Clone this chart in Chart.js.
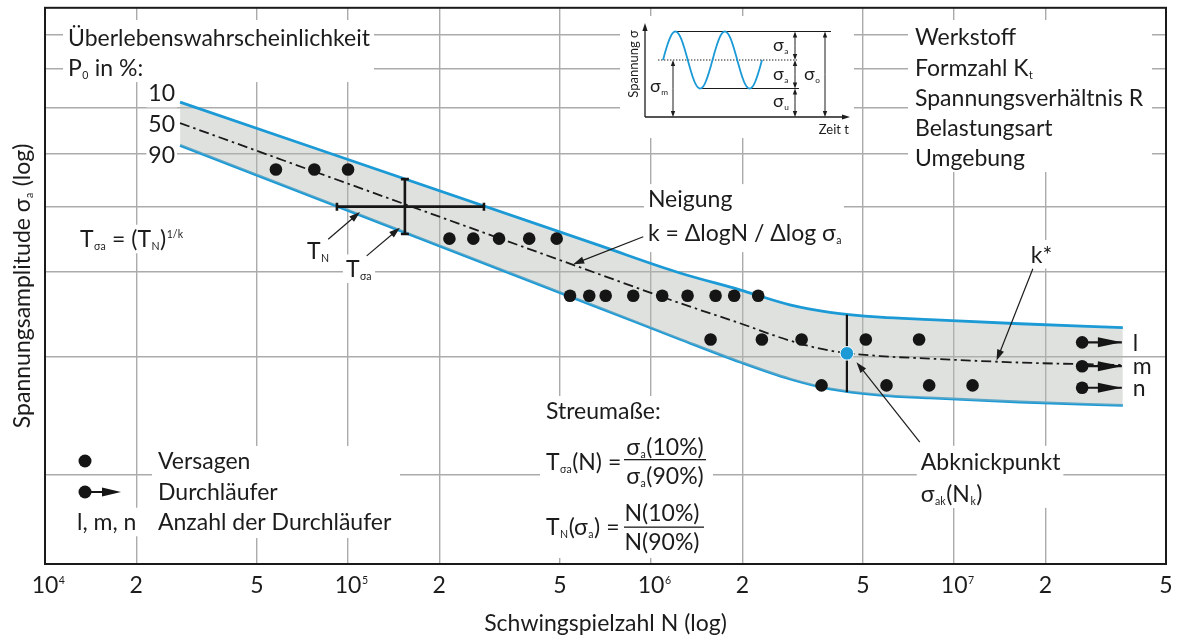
<!DOCTYPE html>
<html lang="de">
<head>
<meta charset="utf-8">
<title>Wöhlerdiagramm</title>
<script src="https://cdn.jsdelivr.net/npm/chart.js@4.4.1/dist/chart.umd.min.js"></script>
<style>
html,body{margin:0;padding:0;background:#fff;overflow:hidden}
canvas{display:block}
</style>
</head>
<body>
<canvas id="chart" width="1179" height="641"></canvas>
<script>
// ---------------- data ----------------
const xTickValues = [1e4, 2e4, 5e4, 1e5, 2e5, 5e5, 1e6, 2e6, 5e6, 1e7, 2e7, 5e7];
const xTickLabels = ['10^{4}', '2', '5', '10^{5}', '2', '5', '10^{6}', '2', '5', '10^{7}', '2', '5'];
const yGridValues = [100, 150, 200, 250, 300, 350, 400, 450];
const xLimits = [1e4, 5e7];
const yLimits = [73.8, 492.9];

// Scatter band (Überlebenswahrscheinlichkeit 10 / 50 / 90 %)
const bandN    = [2.79e4, 6.78e5, 1.245e6, 1.963e6, 2.871e6, 3.89e6, 5.686e6, 8.313e6, 1.647e7, 3.602e7];
const sigma10  = [357.2, 218.8, 199.3, 188.2, 178.8, 174.3, 171.4, 170.0, 167.6, 165.4];
const sigma50  = [332.5, 198.3, 179.8, 167.9, 158.2, 152.9, 150.1, 148.8, 146.8, 145.6];
const sigma90  = [308.2, 176.8, 159.0, 147.1, 138.8, 134.2, 131.4, 130.1, 128.3, 126.8];

// Versagen (failures)
const failN = [5.78e4, 7.74e4, 1.0e5,
               2.16e5, 2.59e5, 3.15e5, 3.96e5, 4.88e5,
               5.40e5, 6.25e5, 7.08e5, 8.73e5, 1.088e6, 1.319e6, 1.632e6, 1.88e6, 2.256e6,
               1.571e6, 2.32e6, 3.137e6, 5.11e6, 7.66e6,
               3.65e6, 5.98e6, 8.27e6, 1.15e7];
const failS = [283.8, 283.8, 283.8,
               224.1, 224.1, 224.1, 224.1, 224.1,
               184.4, 184.4, 184.4, 184.4, 184.4, 184.4, 184.4, 184.4, 184.4,
               158.8, 158.8, 158.8, 158.8, 158.8,
               135.8, 135.8, 135.8, 135.8];

// Durchläufer (run-outs) l, m, n
const runoutN = [2.644e7, 2.644e7, 2.644e7];
const runoutS = [157.3, 145.0, 134.7];
const runoutTipN = 3.575e7;
const runoutLabels = ['l', 'm', 'n'];

// Abknickpunkt
const kneeN = 4.426e6;
const kneeS = 151.5;
const kneeSpanS = [132.7, 172.9];

// Streuspannen T_N (horizontal) and T_σa (vertical)
const errNspan = [9.19e4, 2.808e5];
const errSlevel = 250;
const errNcenter = 1.54e5;
const errSspan = [227.7, 274.6];

// Annotation arrows (data coordinates: [N, σa])
const annotArrows = [
  { from: [8.60e4, 223.6], to: [1.095e5, 245.5] },   // T_N
  { from: [1.152e5, 211.3], to: [1.483e5, 232.6] },  // T_σa
  { from: [9.42e5, 225.6], to: [5.53e5, 205.4] },    // Neigung
  { from: [1.818e7, 202.2], to: [1.38e7, 147.8] },   // k*
  { from: [7.70e6, 111.9], to: [4.76e6, 147.0] }     // Abknickpunkt
];
const annotLabels = [
  { text: 'T_{N}', at: [7.32e4, 214.9], align: 'left' },
  { text: 'T_{σa}', at: [9.84e4, 202.2], align: 'left' },
  { text: 'Neigung', at: [9.76e5, 256.5], align: 'left' },
  { text: 'k = ΔlogN / Δlog σ_{a}', at: [9.76e5, 228.5], align: 'left' },
  { text: 'k*', at: [1.943e7, 212.5], align: 'center' },
  { text: 'Abknickpunkt', at: [7.76e6, 104.6], align: 'left' },
  { text: 'σ_{ak}(N_{k})', at: [7.76e6, 93.9], align: 'left' }
];

// ---------------- styling ----------------
const FONT = 'Lato, "Open Sans", "DejaVu Sans", sans-serif';
const TXT = '#1c1c1c';
const BLUE = '#1b9ad6';
const GRID = '#ababab';
const MAIN = 23;

function parseRich(s) {
  const out = []; let buf = '';
  for (let i = 0; i < s.length; i++) {
    const c = s[i];
    if ((c === '_' || c === '^') && s[i + 1] === '{') {
      if (buf) { out.push({ t: buf, m: 0 }); buf = ''; }
      const j = s.indexOf('}', i);
      out.push({ t: s.slice(i + 2, j), m: c === '_' ? 1 : 2 });
      i = j;
    } else buf += c;
  }
  if (buf) out.push({ t: buf, m: 0 });
  return out;
}
function segSize(m, size) { return m ? size * 0.46 : size; }
function richWidth(ctx, s, size) {
  let w = 0;
  for (const g of parseRich(s)) {
    ctx.font = segSize(g.m, size) + 'px ' + FONT;
    w += ctx.measureText(g.t).width + (g.m ? 1 : 0);
  }
  return w;
}
function drawRich(ctx, s, x, y, size, opt) {
  opt = opt || {};
  const align = opt.align || 'left';
  const w = richWidth(ctx, s, size);
  const left = align === 'center' ? x - w / 2 : align === 'right' ? x - w : x;
  if (opt.bg) {
    const p = opt.pad == null ? 4 : opt.pad;
    ctx.fillStyle = '#fff';
    ctx.fillRect(left - p, y - size * 0.62, w + 2 * p, size * 1.24);
  }
  ctx.fillStyle = opt.color || TXT;
  ctx.textAlign = 'left';
  ctx.textBaseline = 'alphabetic';
  const base = y + size * 0.36;
  let cx = left;
  for (const g of parseRich(s)) {
    const fs = segSize(g.m, size);
    ctx.font = fs + 'px ' + FONT;
    let by = base;
    if (g.m === 1) by = base + size * 0.13;
    else if (g.m === 2) by = base - size * 0.42;
    if (g.m) cx += 0.5;
    ctx.fillText(g.t, cx, by);
    cx += ctx.measureText(g.t).width + (g.m ? 0.5 : 0);
  }
  return w;
}
function whiteBox(ctx, x, y, w, h) { ctx.fillStyle = '#fff'; ctx.fillRect(x, y, w, h); }
function arrowLine(ctx, x1, y1, x2, y2, head, hw, lw) {
  head = head || 10; hw = hw || 3.3; lw = lw || 1.2;
  const a = Math.atan2(y2 - y1, x2 - x1);
  const ca = Math.cos(a), sa = Math.sin(a);
  ctx.strokeStyle = TXT; ctx.fillStyle = TXT; ctx.lineWidth = lw; ctx.setLineDash([]);
  ctx.beginPath(); ctx.moveTo(x1, y1); ctx.lineTo(x2 - head * 0.7 * ca, y2 - head * 0.7 * sa); ctx.stroke();
  ctx.beginPath();
  ctx.moveTo(x2, y2);
  ctx.lineTo(x2 - head * ca + hw * sa, y2 - head * sa - hw * ca);
  ctx.lineTo(x2 - head * ca - hw * sa, y2 - head * sa + hw * ca);
  ctx.closePath(); ctx.fill();
}
function dblArrow(ctx, x, y1, y2) {
  arrowLine(ctx, x, (y1 + y2) / 2, x, y1, 6, 2.2, 1);
  arrowLine(ctx, x, (y1 + y2) / 2, x, y2, 6, 2.2, 1);
}

function drawInset(ctx) {
  whiteBox(ctx, 620, 16, 234, 122);
  ctx.save();
  // axes
  arrowLine(ctx, 645, 117, 645, 23, 8, 2.6, 1.3);
  arrowLine(ctx, 645, 117, 850, 117, 8, 2.6, 1.3);
  // reference lines
  ctx.strokeStyle = TXT; ctx.lineWidth = 1;
  ctx.beginPath(); ctx.moveTo(677, 31.5); ctx.lineTo(831, 31.5); ctx.stroke();
  ctx.beginPath(); ctx.moveTo(700, 88.5); ctx.lineTo(799, 88.5); ctx.stroke();
  ctx.setLineDash([1.4, 1.6]);
  ctx.beginPath(); ctx.moveTo(658, 60); ctx.lineTo(797, 60); ctx.stroke();
  ctx.setLineDash([]);
  // sine (schematic icon)
  ctx.strokeStyle = BLUE; ctx.lineWidth = 1.8;
  ctx.beginPath();
  for (let t = 0; t <= 99; t += 0.5) {
    const x = 663 + t, y = 60 - 28.5 * Math.sin(2 * Math.PI * t / 49.5);
    if (t === 0) ctx.moveTo(x, y); else ctx.lineTo(x, y);
  }
  ctx.stroke();
  // dimension arrows
  dblArrow(ctx, 673, 60, 117);
  dblArrow(ctx, 795, 31.5, 60);
  dblArrow(ctx, 795, 60, 88.5);
  dblArrow(ctx, 795, 88.5, 117);
  dblArrow(ctx, 825, 31.5, 117);
  // labels
  drawRich(ctx, 'σ_{m}', 650, 86, 18);
  drawRich(ctx, 'σ_{a}', 773, 45, 18);
  drawRich(ctx, 'σ_{a}', 773, 74, 18);
  drawRich(ctx, 'σ_{u}', 773, 101, 18);
  drawRich(ctx, 'σ_{o}', 804, 74, 18);
  drawRich(ctx, 'Zeit t', 849, 129, 13, { align: 'right' });
  ctx.save(); ctx.translate(633, 64); ctx.rotate(-Math.PI / 2);
  drawRich(ctx, 'Spannung σ', 0, 0, 13, { align: 'center' });
  ctx.restore();
  ctx.restore();
}

const annotPlugin = {
  id: 'annot',
  beforeDatasetsDraw(chart) {
    const ctx = chart.ctx, xs = chart.scales.x, ys = chart.scales.y;
    const P = (n, s) => [xs.getPixelForValue(n), ys.getPixelForValue(s)];
    ctx.save();
    // top-left block
    whiteBox(ctx, 63, 20, 311, 62);
    drawRich(ctx, 'Überlebenswahrscheinlichkeit', 68, 38, MAIN);
    drawRich(ctx, 'P_{0} in %:', 68, 68, MAIN);
    // band labels
    const b10 = P(bandN[0], sigma10[0]), b50 = P(bandN[0], sigma50[0]), b90 = P(bandN[0], sigma90[0]);
    drawRich(ctx, '10', b10[0] - 5, b10[1] - 9, MAIN, { align: 'right', bg: true, pad: 2 });
    drawRich(ctx, '50', b50[0] - 5, b50[1] + 1, MAIN, { align: 'right', bg: true, pad: 2 });
    drawRich(ctx, '90', b90[0] - 5, b90[1] + 9, MAIN, { align: 'right', bg: true, pad: 2 });
    drawRich(ctx, 'T_{σa} = (T_{N})^{1/k}', 80, 239, MAIN, { bg: true, pad: 4 });
    // legend
    whiteBox(ctx, 152, 446, 248, 92);
    ctx.fillStyle = '#151515';
    ctx.beginPath(); ctx.arc(85, 461, 6.5, 0, 2 * Math.PI); ctx.fill();
    ctx.beginPath(); ctx.arc(85, 492, 6.5, 0, 2 * Math.PI); ctx.fill();
    ctx.strokeStyle = '#151515'; ctx.lineWidth = 2;
    ctx.beginPath(); ctx.moveTo(85, 492); ctx.lineTo(106, 492); ctx.stroke();
    ctx.beginPath(); ctx.moveTo(121, 492); ctx.lineTo(102, 487.5); ctx.lineTo(102, 496.5); ctx.closePath(); ctx.fill();
    drawRich(ctx, 'Versagen', 158, 461, MAIN);
    drawRich(ctx, 'Durchläufer', 158, 492, MAIN);
    drawRich(ctx, 'l, m, n', 77, 522, MAIN, { bg: true, pad: 3 });
    drawRich(ctx, 'Anzahl der Durchläufer', 158, 522, MAIN);
    // Streumaße block
    whiteBox(ctx, 540, 396, 173, 162);
    drawRich(ctx, 'Streumaße:', 546, 411, MAIN);
    drawRich(ctx, 'T_{σa}(N) =', 546, 462, MAIN);
    drawRich(ctx, 'σ_{a}(10%)', 665, 447, MAIN, { align: 'center' });
    drawRich(ctx, 'σ_{a}(90%)', 665, 476, MAIN, { align: 'center' });
    ctx.fillStyle = TXT; ctx.fillRect(624, 459, 82, 1.3);
    drawRich(ctx, 'T_{N}(σ_{a}) =', 546, 527, MAIN);
    drawRich(ctx, 'N(10%)', 662, 513, MAIN, { align: 'center' });
    drawRich(ctx, 'N(90%)', 662, 542, MAIN, { align: 'center' });
    ctx.fillRect(624, 526.5, 80, 1.3);
    // right block
    whiteBox(ctx, 908, 20, 244, 152);
    drawRich(ctx, 'Werkstoff', 915, 37, MAIN);
    drawRich(ctx, 'Formzahl K_{t}', 915, 68, MAIN);
    drawRich(ctx, 'Spannungsverhältnis R', 915, 98, MAIN);
    drawRich(ctx, 'Belastungsart', 915, 128, MAIN);
    drawRich(ctx, 'Umgebung', 915, 158, MAIN);
    // inset
    drawInset(ctx);
    // data-anchored labels
    const nl = P(annotLabels[2].at[0], annotLabels[2].at[1]);
    whiteBox(ctx, nl[0] - 4, nl[1] - 15, 200, 68);
    const ab = P(annotLabels[5].at[0], annotLabels[5].at[1]);
    whiteBox(ctx, ab[0] - 4, ab[1] - 16, 146, 62);
    for (const L of annotLabels) {
      const p = P(L.at[0], L.at[1]);
      drawRich(ctx, L.text, p[0], p[1], MAIN, { align: L.align, bg: true, pad: 3 });
    }
    ctx.restore();
  },
  afterDatasetsDraw(chart) {
    const ctx = chart.ctx, xs = chart.scales.x, ys = chart.scales.y;
    const P = (n, s) => [xs.getPixelForValue(n), ys.getPixelForValue(s)];
    ctx.save();
    // run-out arrowheads + labels
    chart.data.datasets.forEach((d, i) => {
      if (!d.runout) return;
      const pt = chart.getDatasetMeta(i).data[1];
      ctx.fillStyle = '#151515';
      ctx.beginPath(); ctx.moveTo(pt.x, pt.y); ctx.lineTo(pt.x - 24, pt.y - 5); ctx.lineTo(pt.x - 24, pt.y + 5); ctx.closePath(); ctx.fill();
      drawRich(ctx, d.runoutLabel, pt.x + 11, pt.y, MAIN);
    });
    // annotation arrows
    for (const A of annotArrows) {
      const a = P(A.from[0], A.from[1]), b = P(A.to[0], A.to[1]);
      arrowLine(ctx, a[0], a[1], b[0], b[1], 11, 3.6, 1.2);
    }
    ctx.restore();
  },
  afterDraw(chart) {
    const ctx = chart.ctx, xs = chart.scales.x, ca = chart.chartArea;
    ctx.save();
    // frame
    ctx.strokeStyle = '#1a1a1a'; ctx.lineWidth = 2; ctx.setLineDash([]);
    ctx.strokeRect(ca.left, ca.top, ca.right - ca.left, ca.bottom - ca.top);
    // x tick labels
    xTickValues.forEach((v, i) => {
      const x = xs.getPixelForValue(v);
      const lab = xTickLabels[i];
      if (lab.indexOf('^') >= 0) {
        ctx.font = MAIN + 'px ' + FONT;
        const w10 = ctx.measureText('10').width;
        drawRich(ctx, lab, x - w10 / 2, 585, MAIN);
      } else {
        drawRich(ctx, lab, x, 585, MAIN, { align: 'center' });
      }
    });
    // axis titles
    drawRich(ctx, 'Schwingspielzahl N (log)', (ca.left + ca.right) / 2, 623, MAIN, { align: 'center' });
    ctx.translate(22, (ca.top + ca.bottom) / 2); ctx.rotate(-Math.PI / 2);
    drawRich(ctx, 'Spannungsamplitude σ_{a} (log)', 0, 0, MAIN, { align: 'center' });
    ctx.restore();
  }
};

// ---------------- datasets ----------------
const pts = (xs, ys) => xs.map((x, i) => ({ x: x, y: ys[i] }));
const datasets = [
  { label: '10 %', data: pts(bandN, sigma10), borderColor: BLUE, borderWidth: 2.8, pointRadius: 0,
    fill: '+1', backgroundColor: 'rgba(178,184,178,0.42)', cubicInterpolationMode: 'monotone', order: 10 },
  { label: '90 %', data: pts(bandN, sigma90), borderColor: BLUE, borderWidth: 2.8, pointRadius: 0,
    fill: false, cubicInterpolationMode: 'monotone', order: 10 },
  { label: '50 %', data: pts(bandN, sigma50), borderColor: '#1a1a1a', borderWidth: 1.8, borderDash: [10, 4, 2.5, 4],
    pointRadius: 0, fill: false, cubicInterpolationMode: 'monotone', order: 9 },
  { label: 'Abknick', data: [{ x: kneeN, y: kneeSpanS[0] }, { x: kneeN, y: kneeSpanS[1] }], borderColor: '#151515',
    borderWidth: 2.2, pointRadius: 0, fill: false, order: 6 },
  { label: 'T_N', data: [{ x: errNspan[0], y: errSlevel }, { x: errNspan[1], y: errSlevel }], borderColor: '#151515',
    borderWidth: 2.6, pointStyle: 'line', pointRotation: 90, pointRadius: 4, pointBorderWidth: 2.6,
    pointBorderColor: '#151515', fill: false, order: 5 },
  { label: 'T_sa', data: [{ x: errNcenter, y: errSspan[0] }, { x: errNcenter, y: errSspan[1] }], borderColor: '#151515',
    borderWidth: 2.6, pointStyle: 'line', pointRotation: 0, pointRadius: 4, pointBorderWidth: 2.6,
    pointBorderColor: '#151515', fill: false, order: 5 },
  { label: 'Versagen', data: pts(failN, failS), showLine: false, pointRadius: 6.3, pointBackgroundColor: '#151515',
    pointBorderWidth: 0, order: 3 }
];
runoutN.forEach((n, i) => {
  datasets.push({ label: 'Durchläufer ' + runoutLabels[i], runout: true, runoutLabel: runoutLabels[i],
    data: [{ x: n, y: runoutS[i] }, { x: runoutTipN, y: runoutS[i] }], borderColor: '#151515', borderWidth: 2.2,
    pointRadius: [6.3, 0], pointBackgroundColor: '#151515', pointBorderWidth: 0, fill: false, order: 2 });
});
datasets.push({ label: 'Abknickpunkt', data: [{ x: kneeN, y: kneeS }], showLine: false, pointRadius: 6.8,
  pointBackgroundColor: BLUE, pointBorderColor: '#fff', pointBorderWidth: 1, order: 1 });

new Chart(document.getElementById('chart'), {
  type: 'line',
  data: { datasets: datasets },
  options: {
    responsive: false,
    animation: false,
    events: [],
    devicePixelRatio: 1,
    layout: { padding: { top: 6, right: 13, left: 0, bottom: 0 } },
    plugins: { legend: { display: false }, tooltip: { enabled: false } },
    scales: {
      x: {
        type: 'logarithmic', min: xLimits[0], max: xLimits[1], bounds: 'data',
        afterBuildTicks: s => { s.ticks = xTickValues.map(v => ({ value: v })); },
        afterFit: s => { s.height = 77; },
        ticks: { display: false },
        grid: { color: GRID, lineWidth: 1.4, drawTicks: false },
        border: { display: false }
      },
      y: {
        type: 'logarithmic', min: yLimits[0], max: yLimits[1], bounds: 'data',
        afterBuildTicks: s => { s.ticks = yGridValues.map(v => ({ value: v })); },
        afterFit: s => { s.width = 45; },
        ticks: { display: false },
        grid: { color: GRID, lineWidth: 1.4, drawTicks: false },
        border: { display: false }
      }
    }
  },
  plugins: [annotPlugin]
});
</script>
</body>
</html>
